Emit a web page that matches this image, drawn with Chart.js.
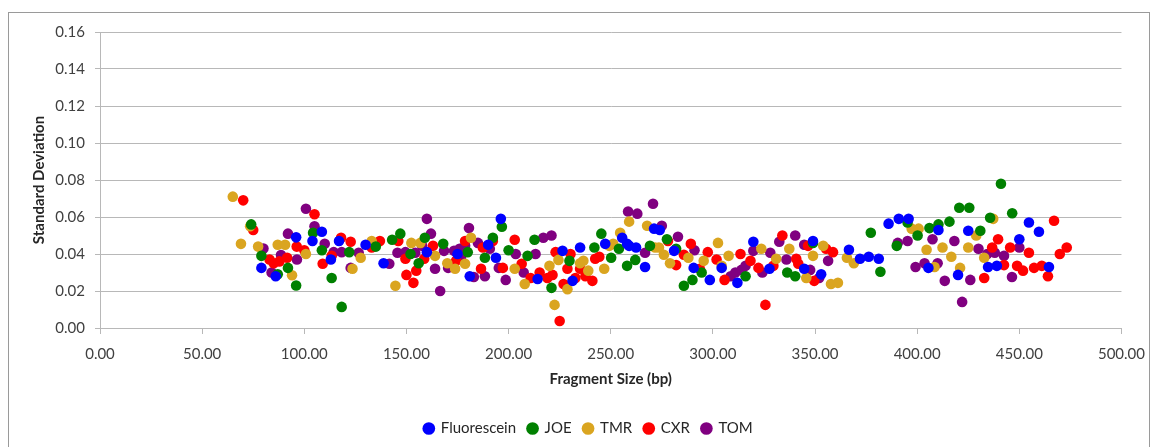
<!DOCTYPE html>
<html>
<head>
<meta charset="utf-8">
<script src="https://cdn.jsdelivr.net/npm/chart.js@4"></script>
<style>
    body { margin: 0; background: #fff; }
    .wrap { position: relative; width: 1156px; height: 447px; }
    .frame { position: absolute; left: 8px; top: 12px; width: 1140px; height: 450px; border: 1px solid #9a9a9a; pointer-events: none; }
</style>
</head>
<body>
<div class="wrap">
    <canvas id="chart" width="1156" height="447"></canvas>
    <div class="frame"></div>
</div>
<script>
// values: [fragment size (bp), standard deviation]
const fluorescein = [
    [79,0.0325],[86,0.028],[96,0.049],[104,0.047],[108.6,0.052],[113,0.037],[117,0.047],[130,0.045],
    [138.8,0.035],[160,0.041],[175,0.040],[181,0.028],[190,0.045],[193.8,0.038],[196.2,0.059],[214.2,0.0265],
    [226.4,0.0417],[231.3,0.0255],[235,0.0435],[247.3,0.0455],[255.6,0.0488],[258,0.0455],[259,0.0444],
    [262.4,0.0435],[266.8,0.033],[271.2,0.0537],[274,0.053],[281,0.0417],[290.6,0.0325],[298.5,0.026],
    [304.3,0.0325],[312,0.0244],[319.8,0.0466],[327.7,0.032],[344.7,0.032],[349,0.047],[353,0.029],
    [366.6,0.0423],[372,0.0374],[376.3,0.0385],[381.2,0.0374],[386,0.0564],[391,0.059],[395.8,0.059],
    [405.5,0.0325],[410.4,0.053],[420,0.0287],[425,0.0526],[434.7,0.033],[439,0.0336],[450,0.048],
    [454.7,0.057],[459.6,0.052],[464.5,0.033]
];
const joe = [
    [74,0.056],[79,0.039],[87,0.029],[92,0.0325],[96,0.023],[104.3,0.0515],[108.6,0.042],[113.4,0.027],
    [118.3,0.0114],[122,0.041],[135,0.044],[143,0.0477],[147,0.051],[152,0.040],[156,0.035],[159,0.0488],
    [168,0.0455],[180,0.041],[188.4,0.038],[192.3,0.0488],[196.7,0.0547],[200,0.042],[209.3,0.039],
    [212.7,0.0477],[221,0.0217],[229.8,0.0363],[242,0.0435],[245.4,0.051],[250.2,0.038],[254,0.0428],
    [258,0.0336],[262,0.0368],[269.2,0.0444],[277.5,0.048],[282,0.0428],[285.8,0.0228],[290,0.026],
    [294.5,0.030],[316,0.028],[336.4,0.030],[340.3,0.028],[349,0.046],[377.3,0.0515],[382,0.0304],
    [390,0.0444],[395.3,0.057],[400.2,0.050],[406,0.054],[410.4,0.056],[415.8,0.0575],[420.6,0.065],
    [425.5,0.065],[430.9,0.0526],[435.7,0.0596],[441,0.078],[446.5,0.062]
];
const tmr = [
    [65,0.071],[69,0.0455],[73.5,0.055],[77.4,0.044],[87,0.045],[90.6,0.045],[94,0.0285],[100.8,0.040],
    [123.6,0.032],[127.6,0.038],[133,0.047],[144.6,0.0228],[152.4,0.046],[156.8,0.046],[164,0.039],
    [170,0.035],[173.8,0.032],[178.7,0.0347],[181.6,0.0488],[203,0.032],[207.9,0.0238],[220,0.0336],
    [222.5,0.0125],[224.4,0.0368],[228.8,0.021],[235,0.035],[236.6,0.0363],[239,0.031],[246.8,0.032],
    [249.3,0.0444],[251.2,0.0455],[254.6,0.0515],[259,0.0575],[267.8,0.0553],[271.7,0.0435],[273.6,0.0435],
    [276,0.0396],[279,0.035],[288,0.038],[295.5,0.0363],[302.5,0.046],[304.3,0.0336],[307.7,0.039],
    [323.7,0.0428],[331,0.0374],[337.4,0.0428],[345.7,0.027],[349,0.039],[354,0.0444],[357.8,0.0238],
    [361.2,0.0244],[365.6,0.038],[369,0.035],[397.3,0.0537],[400.7,0.0537],[404.6,0.0423],[408.5,0.033],
    [412.4,0.0435],[416.7,0.0385],[421,0.0325],[425,0.0435],[428.9,0.050],[432.8,0.038],[437.2,0.059]
];
const cxr = [
    [70.1,0.069],[75,0.053],[83,0.037],[85,0.035],[87.8,0.036],[91.6,0.038],[96.3,0.044],[100,0.042],
    [105,0.0615],[109,0.0347],[113.4,0.039],[118,0.0488],[122.7,0.0466],[133,0.0435],[137,0.047],[146,0.047],
    [149.5,0.0374],[150,0.0287],[153.4,0.0244],[154.8,0.031],[158.7,0.0374],[163,0.0444],[174.3,0.0363],
    [178.7,0.047],[186.5,0.032],[187.4,0.0435],[192.3,0.047],[197.2,0.0325],[203,0.0477],[206.4,0.0347],
    [210.8,0.027],[215.2,0.030],[219,0.027],[221.5,0.0287],[223,0.041],[225,0.0038],[226.9,0.0238],
    [228.8,0.032],[230.3,0.040],[232.7,0.027],[235,0.032],[237.6,0.028],[241,0.0255],[242.4,0.0374],
    [244.4,0.0385],[278,0.047],[282,0.034],[285.8,0.0396],[289.2,0.0455],[293.6,0.032],[297.5,0.041],
    [301.8,0.037],[305.7,0.026],[313.5,0.040],[318.4,0.0363],[322.3,0.0325],[325.7,0.0125],[329.6,0.0336],
    [334,0.050],[340.8,0.0374],[341.8,0.0347],[346.6,0.0444],[349.6,0.0255],[355.4,0.0428],[358.8,0.041],
    [432.8,0.027],[436.7,0.0435],[439.6,0.048],[442.5,0.034],[445.5,0.0435],[448.9,0.0336],[451.8,0.031],
    [454.7,0.0407],[457.2,0.0325],[461,0.0336],[464,0.028],[467,0.058],[469.8,0.040],[473.2,0.0435]
];
const tom = [
    [80,0.043],[84,0.030],[88.6,0.0395],[92,0.051],[96.4,0.037],[100.8,0.0645],[105,0.055],[110,0.0455],
    [114.4,0.041],[118.3,0.041],[122.7,0.0325],[126.6,0.0407],[141.6,0.0347],[145.6,0.0407],[149.5,0.041],
    [154.3,0.0407],[157.7,0.0444],[160,0.059],[162,0.051],[164,0.032],[166.5,0.020],[168.4,0.0417],
    [170.4,0.0325],[173.3,0.0417],[176,0.0428],[176.7,0.038],[178.7,0.0444],[180.6,0.054],[183,0.0276],
    [185,0.046],[188.4,0.028],[190.8,0.0428],[195.2,0.0325],[198.6,0.026],[203.5,0.040],[207.4,0.030],
    [213.2,0.040],[217,0.0488],[221,0.050],[258.5,0.063],[263,0.0618],[266.8,0.0407],[270.7,0.0672],
    [275,0.0553],[282.9,0.0493],[291,0.042],[308.7,0.028],[311,0.030],[314,0.0314],[316,0.0336],
    [319.8,0.0417],[324.2,0.030],[328.1,0.0407],[332.5,0.0466],[336,0.037],[340.3,0.050],[344.7,0.045],
    [347.6,0.0314],[352,0.027],[356.4,0.0363],[390.5,0.046],[395.3,0.047],[399.2,0.033],[403.6,0.035],
    [407.5,0.048],[410,0.035],[413.5,0.0255],[418.2,0.047],[422,0.0141],[426,0.026],[430,0.0428],
    [434.3,0.040],[438,0.0407],[442.5,0.039],[446.4,0.0276],[450,0.0435]
];

const seriesNames = ['Fluorescein', 'JOE', 'TMR', 'CXR', 'TOM'];
const seriesData = [fluorescein, joe, tmr, cxr, tom];
const seriesColors = ['#0000ff', '#008000', '#daa520', '#ff0000', '#800080'];

const xMin = 0, xMax = 500, xStep = 50;
const yMin = 0, yMax = 0.16, yStep = 0.02;

const FONT = 'Lato, "Open Sans", sans-serif';
const gridColor = '#b8b8b8';

// nudge the legend to sit where the original one is
const legendShift = {
    id: 'legendShift',
    afterLayout(chart) {
        const lg = chart.legend;
        if (lg) {
            lg.left += 12; lg.right += 12;
            lg.top -= 1; lg.bottom -= 1;
        }
    }
};

new Chart(document.getElementById('chart'), {
    type: 'scatter',
    data: {
        datasets: seriesNames.map((name, i) => ({
            label: name,
            data: seriesData[i].map(p => ({ x: p[0], y: p[1] })),
            backgroundColor: seriesColors[i],
            borderColor: seriesColors[i],
            borderWidth: 0,
            pointRadius: 5.3,
            pointHoverRadius: 5.3,
            pointStyle: 'circle'
        }))
    },
    options: {
        responsive: false,
        animation: false,
        layout: { padding: { left: 28, right: 31, top: 32, bottom: 0 } },
        scales: {
            x: {
                type: 'linear',
                min: xMin, max: xMax,
                afterFit: s => { s.height = 82; },
                ticks: {
                    stepSize: xStep,
                    padding: 11,
                    color: '#404040',
                    font: { family: FONT, size: 15 },
                    callback: v => v.toFixed(2),
                    maxRotation: 0
                },
                grid: { drawOnChartArea: false, drawTicks: true, tickLength: 6, color: gridColor },
                border: { color: gridColor },
                title: {
                    display: true,
                    text: 'Fragment Size (bp)',
                    color: '#262626',
                    font: { family: FONT, size: 15, weight: 'bold' },
                    padding: { top: 22, bottom: 22 }
                }
            },
            y: {
                min: yMin, max: yMax,
                afterFit: s => { s.width = 72; },
                ticks: {
                    stepSize: yStep,
                    padding: 10,
                    color: '#404040',
                    font: { family: FONT, size: 15 },
                    callback: v => v.toFixed(2)
                },
                grid: { color: gridColor, tickLength: 5 },
                border: { color: gridColor },
                title: {
                    display: true,
                    text: 'Standard Deviation',
                    color: '#262626',
                    font: { family: FONT, size: 15, weight: 'bold' },
                    padding: { top: 2, bottom: 2 }
                }
            }
        },
        plugins: {
            legend: {
                position: 'bottom',
                labels: {
                    usePointStyle: true,
                    pointStyle: 'circle',
                    boxWidth: 9,
                    boxHeight: 9,
                    padding: 12,
                    color: '#262626',
                    font: { family: FONT, size: 15 }
                }
            },
            tooltip: { enabled: false }
        }
    },
    plugins: [legendShift]
});
</script>
</body>
</html>
